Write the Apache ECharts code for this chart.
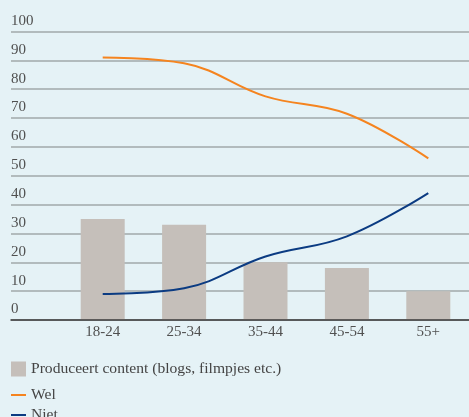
<!DOCTYPE html>
<html>
<head>
<meta charset="utf-8">
<script src="https://cdn.jsdelivr.net/npm/echarts@6/dist/echarts.min.js"></script>
<style>
html,body{margin:0;padding:0;background:#e5f2f6;}
#c{width:469px;height:417px;}
</style>
</head>
<body>
<div id="c"></div>
<script>
const categories = ['18-24', '25-34', '35-44', '45-54', '55+'];
const produceert = [35, 33, 20, 18, 10];
const wel = [91, 89, 77.5, 71.5, 56];
const niet = [9, 11, 22, 29, 44];
const yTicks = [0, 10, 20, 30, 40, 50, 60, 70, 80, 90, 100];
const barName = 'Produceert content (blogs, filmpjes etc.)';

const FONT = '"Liberation Serif", serif';
const chart = echarts.init(document.getElementById('c'));
chart.setOption({
  backgroundColor: '#e5f2f6',
  animation: false,
  grid: [
    {left: 11, right: 0, top: 31.5, bottom: 97},
    {left: 62, right: -2, top: 31.5, bottom: 97}
  ],
  xAxis: [
    {gridIndex: 0, type: 'value', min: 0, max: 1, z: 5,
      axisLine: {show: true, onZero: false, lineStyle: {color: '#3a3a3a', width: 1.5}},
      axisTick: {show: false}, axisLabel: {show: false}, splitLine: {show: false}},
    {gridIndex: 1, type: 'category', data: categories,
      axisLine: {show: false}, axisTick: {show: false},
      axisLabel: {margin: 5, color: '#505050', fontFamily: FONT, fontSize: 15}}
  ],
  yAxis: [
    {gridIndex: 0, type: 'value', min: yTicks[0], max: yTicks[yTicks.length - 1], interval: 10,
      axisLine: {show: false}, axisTick: {show: false},
      axisLabel: {inside: true, margin: 0, align: 'left', verticalAlign: 'bottom', padding: [0, 0, 3, 0],
        color: '#505050', fontFamily: FONT, fontSize: 15},
      splitLine: {lineStyle: {color: '#a0a8aa', width: 1.5}}},
    {gridIndex: 1, type: 'value', min: 0, max: 100, show: false, splitLine: {show: false}}
  ],
  legend: [
    {left: 11, top: 361, padding: 0, orient: 'vertical', itemWidth: 15, itemHeight: 15, itemGap: 0,
      data: [{name: barName, icon: 'rect'}],
      textStyle: {color: '#444', fontFamily: FONT, fontSize: 15.6, padding: [4, 0, 0, 0]}},
    {left: 11, top: 383, padding: 0, itemWidth: 15, itemHeight: 2,
      data: [{name: 'Wel', icon: 'rect'}],
      textStyle: {color: '#444', fontFamily: FONT, fontSize: 15.6, lineHeight: 16, padding: [0, 0, 8, 0]}},
    {left: 11, top: 403, padding: 0, itemWidth: 15, itemHeight: 2,
      data: [{name: 'Niet', icon: 'rect'}],
      textStyle: {color: '#444', fontFamily: FONT, fontSize: 15.6, lineHeight: 16, padding: [0, 0, 8, 0]}}
  ],
  series: [
    {name: barName, type: 'bar', xAxisIndex: 1, yAxisIndex: 1, data: produceert,
      barWidth: 44, itemStyle: {color: '#c5bfba'}},
    {name: 'Wel', type: 'line', xAxisIndex: 1, yAxisIndex: 1, data: wel, smooth: 0.4,
      showSymbol: false, symbol: 'none', lineStyle: {color: '#f5841f', width: 2}, itemStyle: {color: '#f5841f'}},
    {name: 'Niet', type: 'line', xAxisIndex: 1, yAxisIndex: 1, data: niet, smooth: 0.4,
      showSymbol: false, symbol: 'none', lineStyle: {color: '#0b3b82', width: 2}, itemStyle: {color: '#0b3b82'}}
  ]
});
</script>
</body>
</html>
